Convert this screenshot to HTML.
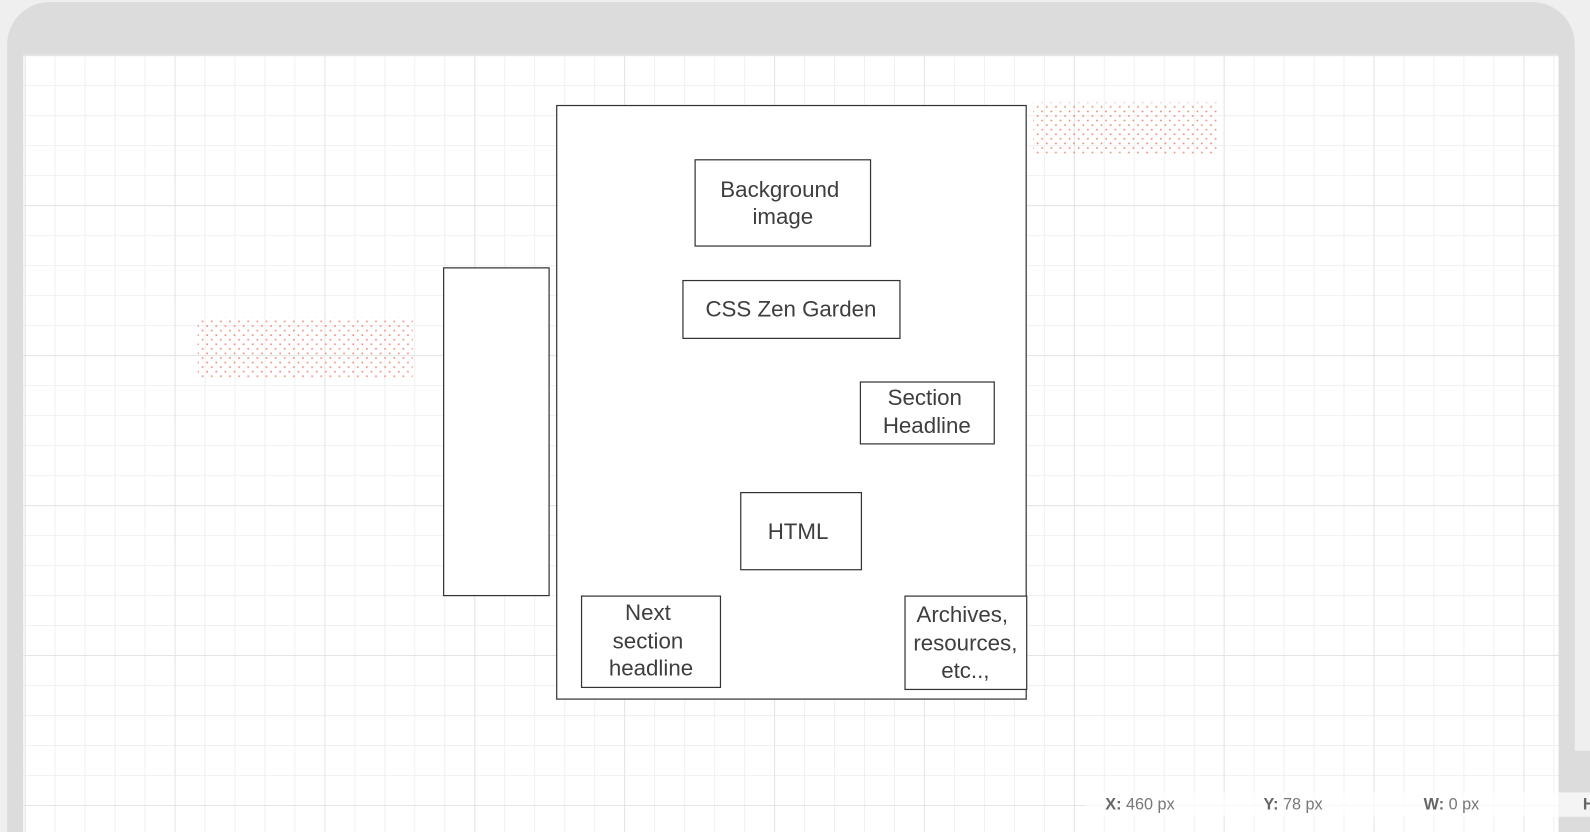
<!DOCTYPE html>
<html><head><style>
html,body{margin:0;padding:0;background:#efefef;width:1590px;height:832px;overflow:hidden;font-family:"Liberation Sans",sans-serif}
</style></head><body>
<svg width="1590" height="832" viewBox="0 0 1568 820" preserveAspectRatio="none" xmlns="http://www.w3.org/2000/svg" style="position:absolute;left:0;top:0;overflow:hidden">
<defs>
<pattern id="minor" x="24.4" y="54.4" width="29.56" height="29.56" patternUnits="userSpaceOnUse">
<path d="M0 0H29.56M0 0V29.56" stroke="#ececec" stroke-width="1.5" fill="none"/>
</pattern>
<pattern id="major" x="24.4" y="54.4" width="147.8" height="147.8" patternUnits="userSpaceOnUse">
<path d="M0 0H147.8M0 0V147.8" stroke="#e0e0e0" stroke-width="1.5" fill="none"/>
</pattern>
<pattern id="dots" x="0" y="0" width="9" height="9" patternUnits="userSpaceOnUse">
<rect x="1" y="1" width="1.6" height="1.6" fill="#f28b7a"/>
<rect x="5.5" y="5.5" width="1.6" height="1.6" fill="#f28b7a"/>
</pattern>
</defs>
<path d="M7 820V44A42 42 0 0 1 49 2H1511A42 42 0 0 1 1553 44V820Z" fill="#dcdcdc"/>
<rect x="23" y="54" width="1514" height="766" fill="#fff"/>
<rect x="23" y="54" width="1514" height="766" fill="url(#minor)"/>
<rect x="23" y="54" width="1514" height="766" fill="url(#major)"/>
<rect x="1019" y="101" width="181" height="52" fill="url(#dots)"/>
<rect x="195" y="313" width="212" height="60" fill="url(#dots)"/>
<g fill="#fff" stroke="#333" stroke-width="1.2">
<rect x="549" y="104" width="463" height="585"/>
<rect x="437.5" y="264" width="104" height="323"/>
<rect x="685.5" y="157.5" width="173" height="85"/>
<rect x="673.5" y="276.5" width="214" height="57"/>
<rect x="848.5" y="376.5" width="132" height="61"/>
<rect x="730.5" y="485.5" width="119" height="76"/>
<rect x="573.5" y="587.5" width="137" height="90"/>
<rect x="892.5" y="587.5" width="120" height="92"/>
</g>
<g font-family="Liberation Sans, sans-serif" font-size="22" fill="#3e3e3e" text-anchor="middle">
<text x="769" y="194">Background</text><text x="772" y="221">image</text>
<text x="780" y="312">CSS Zen Garden</text>
<text x="912" y="399">Section</text><text x="914" y="427">Headline</text>
<text x="787" y="531">HTML</text>
<text x="639" y="611">Next</text><text x="639" y="639">section</text><text x="642" y="666">headline</text>
<text x="949" y="613">Archives,</text><text x="952" y="641">resources,</text><text x="952" y="668">etc..,</text>
</g>
<rect x="1070" y="781" width="470" height="24" fill="#fff" opacity="0.7"/>
<rect x="1537" y="740" width="31" height="80" fill="#dcdcdc"/>
<rect x="1537" y="781" width="31" height="24" fill="#f4f4f4"/>
<g font-family="Liberation Sans, sans-serif" font-size="16" fill="#777">
<text x="1090" y="798"><tspan font-weight="bold" fill="#666">X:</tspan> 460 px</text>
<text x="1246" y="798"><tspan font-weight="bold" fill="#666">Y:</tspan> 78 px</text>
<text x="1404" y="798"><tspan font-weight="bold" fill="#666">W:</tspan> 0 px</text>
<text x="1561" y="798" font-weight="bold" fill="#666">H</text>
</g>
</svg>
</body></html>
